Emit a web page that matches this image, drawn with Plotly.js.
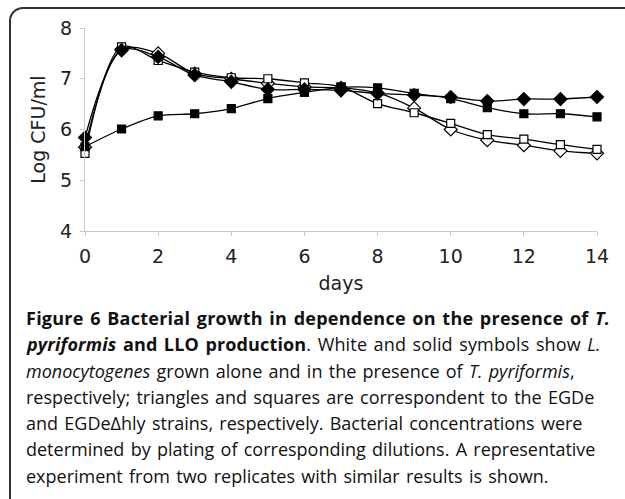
<!DOCTYPE html>
<html>
<head>
<meta charset="utf-8">
<script src="https://cdn.plot.ly/plotly-3.0.1.min.js"></script>
<style>
html,body{margin:0;padding:0;width:625px;height:499px;overflow:hidden;background:#fff;}
#frame{position:absolute;left:9px;top:7px;width:640px;height:510px;border:2px solid #333;border-radius:14px;box-sizing:border-box;}
#chart{position:absolute;left:0;top:0;width:625px;height:499px;}
</style>
</head>
<body>
<div id="frame"></div>
<div id="chart"></div>
<script>
// Data
const days = [0,1,2,3,4,5,6,7,8,9,10,11,12,13,14];
const egdeAlone      = [5.65,7.58,7.50,7.10,7.00,6.91,6.84,6.82,6.72,6.42,6.00,5.79,5.69,5.58,5.53]; // open diamonds
const egdeWithTp     = [5.84,7.56,7.43,7.07,6.94,6.79,6.79,6.77,6.71,6.68,6.64,6.56,6.60,6.60,6.64]; // filled diamonds
const hlyAlone       = [5.53,7.63,7.36,7.13,7.02,7.00,6.92,6.84,6.51,6.33,6.12,5.90,5.81,5.70,5.61]; // open squares
const hlyWithTp      = [5.66,6.01,6.27,6.31,6.41,6.61,6.73,6.83,6.82,6.71,6.61,6.43,6.31,6.31,6.25]; // filled squares
const xTicks = [0,2,4,6,8,10,12,14];
const yTicks = [4,5,6,7,8];

const captionText = [
  "<b>Figure 6 Bacterial growth in dependence on the presence of <i>T.</i></b>",
  "<b><i>pyriformis</i> and LLO production</b>. White and solid symbols show <i>L.</i>",
  "<i>monocytogenes</i> grown alone and in the presence of <i>T. pyriformis</i>,",
  "respectively; triangles and squares are correspondent to the EGDe",
  "and EGDe\u0394hly strains, respectively. Bacterial concentrations were",
  "determined by plating of corresponding dilutions. A representative",
  "experiment from two replicates with similar results is shown."
];
const wordSpacing = [1.6, 1.6, 1.6, 1.6, 1.6, 1.6, 1.6];
const letterSpacing = [0.25, 0.15, 0, 0, 0, 0, 0];
const captionLines = captionText.map((t,i)=>
  '<span style="word-spacing:' + wordSpacing[i] + 'px;letter-spacing:' + letterSpacing[i] + 'px">' + t + '</span>');

function series(name, y, symbol, filled, size){
  return {
    type:'scatter', mode:'lines+markers', name:name, x:days, y:y,
    cliponaxis:false,
    line:{color:'#000', width:1.3, shape:'spline', smoothing:0.9},
    marker:{symbol:symbol, size:size, color: filled ? '#000' : '#fff', line:{color:'#000', width:1.2}}
  };
}

const traces = [
  series('EGDe alone', egdeAlone, 'diamond', false, 10),
  series('EGDe\u0394hly alone', hlyAlone, 'square', false, 8),
  series('EGDe\u0394hly + T. pyriformis', hlyWithTp, 'square', true, 8),
  series('EGDe + T. pyriformis', egdeWithTp, 'diamond', true, 10)
];

const L=85, R=597, T=28, B=231;
const W=625, H=499;
const pw=R-L, ph=B-T;
function px2x(p){return (p-L)/pw;}
function py2y(p){return (B-p)/ph;}

const captionTop = 318, captionStep = 26.3;
const annotations = captionLines.map((t,i)=>({
  text:t, xref:'paper', yref:'paper', x:px2x(24), y:py2y(captionTop+i*captionStep),
  xanchor:'left', yanchor:'middle', showarrow:false,
  font:{family:'Open Sans, sans-serif', size:18, color:'#111'}
}));

const axFont = {family:'DejaVu Sans, sans-serif', size:19, color:'#222'};
const layout = {
  width:W, height:H,
  margin:{l:L, r:W-R, t:T, b:H-B, pad:0},
  paper_bgcolor:'rgba(0,0,0,0)', plot_bgcolor:'rgba(0,0,0,0)',
  showlegend:false,
  font:axFont,
  xaxis:{range:[0,14], tickvals:xTicks, ticks:'outside', ticklen:4, tickcolor:'#c8c8c8',
         tickfont:axFont, ticklabelstandoff:4,
         showline:true, linecolor:'#c8c8c8', linewidth:1, showgrid:false, zeroline:false,
         title:{text:'days', standoff:10, font:axFont}},
  yaxis:{range:[4,8], tickvals:yTicks, ticks:'outside', ticklen:4, tickcolor:'#c8c8c8',
         tickfont:axFont, ticklabelstandoff:4,
         showline:true, linecolor:'#c8c8c8', linewidth:1, showgrid:false, zeroline:false,
         title:{text:'Log CFU/ml', standoff:9, font:axFont}},
  annotations:annotations
};

Plotly.newPlot('chart', traces, layout, {displayModeBar:false, staticPlot:true});
</script>
</body>
</html>
